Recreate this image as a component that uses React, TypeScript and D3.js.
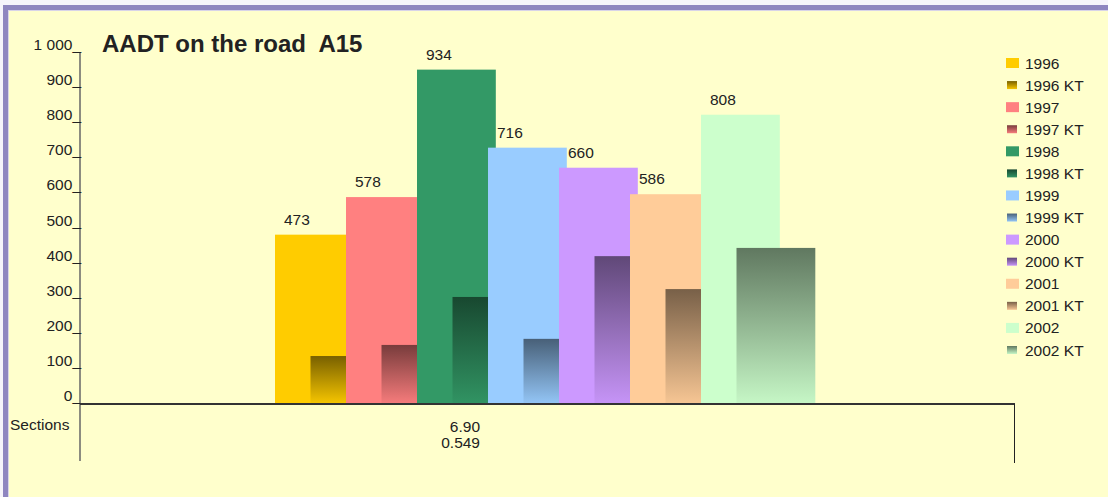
import { scaleBand, scaleLinear, scalePoint, rgb } from "d3";

// Data
const years = ["1996", "1997", "1998", "1999", "2000", "2001", "2002"];
const aadt = [473, 578, 934, 716, 660, 586, 808];
const aadtKT = [134, 165, 299, 182, 413, 321, 436];
const colors = ["#ffcc00", "#ff8080", "#339966", "#99ccff", "#cc99ff", "#ffcc99", "#ccffcc"];
const tickValues = [0, 100, 200, 300, 400, 500, 600, 700, 800, 900, 1000];
const tickLabels = ["0", "100", "200", "300", "400", "500", "600", "700", "800", "900", "1 000"];
const sectionValues = ["6.90", "0.549"];

const W = 1108;
const H = 497;
const FONT = "'Liberation Sans', Arial, sans-serif";
const TEXT = "#222";
const FS = 15.5;

function darken(c: string, k: number) {
  const r = rgb(c);
  return rgb(r.r * k, r.g * k, r.b * k).formatHex();
}

export default function App() {
  // Scales
  const x = scaleBand<string>().domain(years).range([275, 275 + 71 * years.length]).padding(0);
  const barW = x.step() * 1.11;
  const ktOffset = x.step() * 0.5;
  const y = scaleLinear().domain([0, 1000]).range([404, 46]);
  const yTicks = scaleLinear().domain([0, 1000]).range([404, 53]);

  const legendKeys = years.flatMap((yr) => [yr, `${yr} KT`]);
  const legendY = scalePoint<string>().domain(legendKeys).range([63, 350]);

  return (
    <svg
      width={W}
      height={H}
      style={{ position: "absolute", left: 0, top: 0, background: "#f6f4fb" }}
      fontFamily={FONT}
    >
      <defs>
        {colors.map((c, i) => (
          <linearGradient key={i} id={`kt${i}`} x1="0" y1="0" x2="0" y2="1">
            <stop offset="0%" stopColor={darken(c, 0.47)} />
            <stop offset="100%" stopColor={darken(c, 0.97)} />
          </linearGradient>
        ))}
      </defs>

      {/* Frame */}
      <rect x={8} y={10} width={W - 8} height={H - 10} fill="#ffffcc" />
      <rect x={3} y={5} width={W - 3} height={5} fill="#8f86c0" />
      <rect x={3} y={5} width={5} height={H - 5} fill="#8f86c0" />
      <rect x={8} y={10} width={W - 8} height={1} fill="#d8d4e8" />
      <rect x={8} y={10} width={1} height={H - 10} fill="#d8d4e8" />

      {/* Title */}
      <text x={102} y={52} fontSize={24} fontWeight="bold" fill={TEXT} style={{ whiteSpace: "pre" }}>
        {"AADT on the road  A15"}
      </text>

      {/* Bars */}
      {years.map((yr, i) => {
        const bx = x(yr)!;
        return (
          <g key={yr}>
            <rect x={bx} y={y(aadt[i])} width={barW} height={y(0) - y(aadt[i])} fill={colors[i]} />
            <rect
              x={bx + ktOffset}
              y={y(aadtKT[i])}
              width={barW}
              height={y(0) - y(aadtKT[i])}
              fill={`url(#kt${i})`}
            />
          </g>
        );
      })}

      {/* Value labels */}
      {years.map((yr, i) => (
        <text key={yr} x={x(yr)! + 9} y={y(aadt[i]) - 10} fontSize={FS} fill={TEXT}>
          {aadt[i]}
        </text>
      ))}

      {/* Y axis */}
      <line x1={80} x2={80} y1={53} y2={461} stroke="#666" strokeWidth={1.5} />
      {tickValues.map((v, i) => (
        <text key={v} x={81} y={yTicks(v) - 3} fontSize={FS} fill={TEXT} textAnchor="end">
          {tickLabels[i]}_
        </text>
      ))}

      {/* Baseline and section table */}
      <line x1={80} x2={1015} y1={y(0)} y2={y(0)} stroke="#333" strokeWidth={2} />
      <line x1={1014.5} x2={1014.5} y1={y(0)} y2={463} stroke="#222" strokeWidth={1} />
      <text x={10} y={430} fontSize={FS} fill={TEXT}>
        Sections
      </text>
      {sectionValues.map((s, i) => (
        <text key={s} x={480} y={432 + i * 16} fontSize={FS} fill={TEXT} textAnchor="end">
          {s}
        </text>
      ))}

      {/* Legend */}
      {legendKeys.map((k, j) => {
        const i = Math.floor(j / 2);
        const kt = j % 2 === 1;
        const ly = legendY(k)!;
        return (
          <g key={k}>
            {kt ? (
              <rect x={1007} y={ly - 4} width={10} height={8} fill={`url(#kt${i})`} />
            ) : (
              <rect x={1006} y={ly - 5} width={13} height={10} fill={colors[i]} />
            )}
            <text x={1025} y={ly + 5.5} fontSize={FS} fill={TEXT}>
              {k}
            </text>
          </g>
        );
      })}
    </svg>
  );
}
